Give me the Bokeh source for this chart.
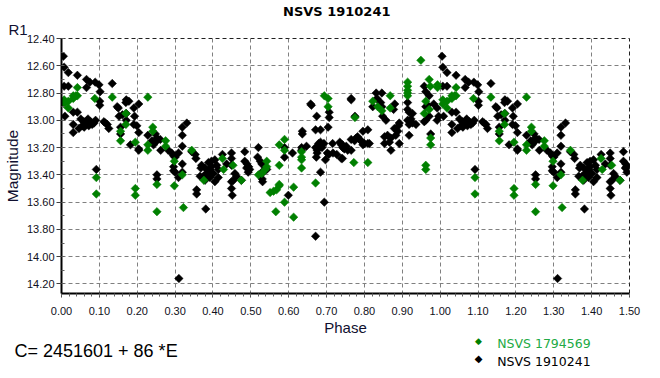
import math
from bokeh.plotting import figure
from bokeh.models import (Range1d, FixedTicker, NumeralTickFormatter, Title,
                          ColumnDataSource)
from bokeh.embed import file_html
from bokeh.resources import INLINE

# ---- data (phase 0..1; points with phase <= 0.5 are repeated at phase + 1) ----
black_phase = [
    0.005, 0.007, 0.018, 0.042, 0.066, 0.075, 0.089, 0.099, 0.102, 0.007, 0.018, 0.066,
    0.134, 0.101, 0.101, 0.171, 0.178, 0.170, 0.147, 0.150, 0.204, 0.191, 0.009, 0.031,
    0.042, 0.031, 0.051, 0.059, 0.068, 0.077, 0.086, 0.055, 0.064, 0.072, 0.046, 0.081,
    0.090, 0.060, 0.070, 0.031, 0.112, 0.121, 0.125, 0.116, 0.152, 0.161, 0.156, 0.156,
    0.171, 0.171, 0.193, 0.191, 0.199, 0.204, 0.182, 0.204, 0.204, 0.228, 0.239, 0.243,
    0.092,
    0.248, 0.252, 0.245, 0.252, 0.261, 0.243, 0.262, 0.282, 0.291, 0.296, 0.300, 0.309,
    0.319, 0.331, 0.319, 0.319, 0.319, 0.319, 0.309, 0.296, 0.296, 0.300, 0.252, 0.252,
    0.344, 0.353, 0.355, 0.357, 0.357, 0.381, 0.310,
    0.370, 0.379, 0.388, 0.396, 0.405, 0.410, 0.392, 0.383, 0.401, 0.414, 0.375, 0.392,
    0.405, 0.414, 0.379, 0.366, 0.368, 0.396,
    0.425, 0.436, 0.449, 0.449, 0.449, 0.458, 0.462, 0.454, 0.449, 0.475, 0.484, 0.484,
    0.489, 0.493, 0.493, 0.449, 0.451,
    0.494, 0.497, 0.490, 0.520, 0.518, 0.525, 0.529, 0.533, 0.529, 0.530, 0.531, 0.542,
    0.589, 0.589, 0.599, 0.610, 0.634, 0.634, 0.636, 0.636, 0.647, 0.658, 0.660, 0.674,
    0.671, 0.684,
    0.671, 0.675, 0.675, 0.679, 0.684, 0.688, 0.693, 0.673, 0.697, 0.706, 0.702, 0.717,
    0.684, 0.694, 0.671, 0.707, 0.707, 0.704, 0.716, 0.735, 0.742, 0.744, 0.742, 0.727,
    0.739, 0.743, 0.747, 0.752, 0.756, 0.739, 0.765, 0.765, 0.765, 0.775,
    0.765, 0.774, 0.778, 0.782, 0.787, 0.791, 0.796, 0.800, 0.809, 0.813, 0.796, 0.809,
    0.831, 0.846, 0.833, 0.843, 0.846, 0.822, 0.848, 0.857,
    0.877, 0.880, 0.879, 0.888, 0.892, 0.883, 0.870, 0.853, 0.861, 0.866, 0.870, 0.853,
    0.892, 0.890,
    0.914, 0.914, 0.918, 0.927, 0.923, 0.914, 0.918, 0.927, 0.936, 0.918,
    0.958, 0.962, 0.971, 0.962, 0.967, 0.958, 0.962, 0.971, 0.975, 0.983, 0.992, 0.992,
    0.996,
]
black_mag = [
    12.53, 12.61, 12.65, 12.67, 12.70, 12.72, 12.72, 12.74, 12.79, 12.75, 12.75, 12.76,
    12.73, 12.86, 12.89, 12.85, 12.86, 12.87, 12.90, 12.91, 12.88, 12.91, 12.97, 12.94,
    12.94, 13.03, 12.99, 13.01, 13.00, 13.01, 13.02, 13.04, 13.03, 13.04, 13.06, 13.03,
    13.00, 13.05, 12.99, 13.09, 13.01, 13.03, 13.06, 13.02, 12.97, 12.96, 13.05, 13.10,
    12.95, 13.00, 12.97, 13.03, 13.04, 13.09, 13.18, 13.21, 13.22, 13.11, 13.15, 13.18,
    13.36,
    13.10, 13.13, 13.16, 13.15, 13.14, 13.17, 13.22, 13.22, 13.24, 13.26, 13.27, 13.24,
    13.05, 13.02, 13.11, 13.19, 13.32, 13.38, 13.42, 13.34, 13.37, 13.38, 13.40, 13.43,
    13.23, 13.25, 13.28, 13.51, 13.54, 13.65, 14.16,
    13.33, 13.35, 13.31, 13.30, 13.29, 13.33, 13.36, 13.39, 13.39, 13.36, 13.41, 13.42,
    13.45, 13.42, 13.44, 13.41, 13.35, 13.34,
    13.25, 13.32, 13.24, 13.28, 13.33, 13.39, 13.41, 13.44, 13.45, 13.44, 13.23, 13.30,
    13.35, 13.38, 13.34, 13.50, 13.55,
    13.34, 13.36, 13.32, 13.20, 13.27, 13.30, 13.32, 13.37, 13.39, 13.43, 13.45, 13.36,
    13.20, 13.27, 13.55, 13.24, 13.22, 13.20, 13.08, 13.10, 13.19, 12.88, 12.89, 12.97,
    13.07, 13.07,
    13.20, 13.22, 13.24, 13.17, 13.16, 13.20, 13.17, 13.27, 13.29, 13.25, 13.24, 13.24,
    13.38, 13.60, 13.85, 12.94, 12.98, 13.05, 13.17, 13.16, 13.18, 13.20, 13.28, 13.25,
    13.18, 13.20, 13.21, 13.19, 13.22, 13.28, 13.22, 12.85, 12.84, 12.97,
    13.14, 13.15, 13.13, 13.12, 13.14, 13.15, 13.18, 13.17, 13.17, 13.17, 13.08, 13.07,
    12.80, 12.80, 12.84, 12.87, 12.90, 12.90, 12.97, 13.00,
    12.92, 12.88, 13.06, 13.08, 13.02, 13.11, 13.13, 13.12, 13.11, 13.16, 13.22, 13.17,
    13.17, 13.04,
    12.87, 12.92, 12.94, 12.95, 12.99, 13.00, 13.03, 13.02, 13.03, 13.11,
    12.75, 12.79, 12.82, 12.90, 12.89, 13.01, 13.00, 12.97, 13.10, 12.88, 12.91, 13.00,
    12.97,
]
green_phase = [
    0.007, 0.007, 0.018, 0.018, 0.031, 0.031, 0.038, 0.042, 0.042, 0.088, 0.134, 0.228,
    0.170, 0.170, 0.156, 0.156, 0.195, 0.241, 0.241, 0.228, 0.228, 0.092, 0.092, 0.195,
    0.195, 0.252, 0.252,
    0.275, 0.275, 0.298, 0.298, 0.319, 0.322, 0.344, 0.376, 0.425, 0.428, 0.475, 0.453,
    0.542, 0.542, 0.538, 0.520, 0.529, 0.551, 0.560, 0.568, 0.575, 0.575, 0.566, 0.575,
    0.575, 0.589, 0.589, 0.589, 0.613, 0.613, 0.634, 0.634, 0.634, 0.634, 0.671, 0.694,
    0.704, 0.704,
    0.775, 0.772, 0.809, 0.822, 0.835, 0.846, 0.868, 0.868, 0.914, 0.914, 0.914, 0.914,
    0.949, 0.914, 0.971, 0.974, 0.958, 0.971, 0.962, 0.993, 0.993, 0.975, 0.975, 0.962,
    0.962,
]
green_mag = [
    12.85, 12.88, 12.86, 12.91, 12.82, 12.84, 12.82, 12.82, 12.76, 12.84, 12.83, 12.83,
    12.95, 13.03, 13.08, 13.15, 13.16, 13.05, 13.08, 13.18, 13.22, 13.42, 13.54, 13.50,
    13.55, 13.47, 13.67,
    13.15, 13.19, 13.30, 13.48, 13.40, 13.64, 13.22, 13.44, 13.28, 13.36, 13.44, 13.33,
    13.30, 13.34, 13.36, 13.40, 13.39, 13.53, 13.52, 13.51, 13.48, 13.47, 13.67, 13.33,
    13.18, 13.14, 13.22, 13.60, 13.49, 13.71, 13.23, 13.27, 13.29, 13.35, 13.46, 12.82,
    12.84, 12.90,
    12.98, 13.31, 13.31, 12.86, 12.90, 12.93, 12.82, 12.91, 12.72, 12.75, 12.80, 12.82,
    12.56, 12.78, 12.70, 12.75, 12.95, 12.92, 12.86, 12.74, 12.76, 13.13, 13.18, 13.33,
    13.36,
]
x_ticks = [0.0, 0.1, 0.2, 0.3, 0.4, 0.5, 0.6, 0.7, 0.8, 0.9, 1.0, 1.1, 1.2, 1.3, 1.4, 1.5]
y_ticks = [12.4, 12.6, 12.8, 13.0, 13.2, 13.4, 13.6, 13.8, 14.0, 14.2]

title_text = "NSVS 1910241"
series_names = ["NSVS 1794569", "NSVS 1910241"]
series_colors = ["#008000", "#000000"]
label_colors = ["#22aa44", "#000000"]
epoch_text = "C= 2451601 + 86 *E"
legend_symbol = "\u25c6"


def fold(ph, mg):
    xs = list(ph) + [a + 1.0 for a in ph if a <= 0.5]
    ys = list(mg) + [m for a, m in zip(ph, mg) if a <= 0.5]
    return xs, ys


bx, by = fold(black_phase, black_mag)
gx, gy = fold(green_phase, green_mag)

W, H = 660, 378
FL, FR, FT, FB = 59, 629, 38, 293   # frame edges in page pixels

p = figure(width=W, height=H, output_backend="svg", toolbar_location=None,
           title=title_text,
           x_range=Range1d(0, 1.5), y_range=Range1d(14.27, 12.40),
           min_border_left=FL, min_border_right=W - FR, min_border_top=FT,
           min_border_bottom=H - FB, background_fill_color="white",
           border_fill_color="white")

p.title.align = "left"
p.title.offset = 280.5 - FL
p.title.standoff = 0
p.title.text_font = "DejaVu Sans"
p.title.text_font_style = "bold"
p.title.text_font_size = "13px"
p.title.text_color = "black"

p.add_layout(Title(text="R1", align="left", offset=6 - FL, standoff=1,
                   text_font="Liberation Sans", text_font_style="normal",
                   text_font_size="15px", text_color="#101030"), "above")

for g in (p.xgrid, p.ygrid):
    g.grid_line_color = "#808080"
    g.grid_line_dash = "4 3"
    g.grid_line_width = 1
p.xgrid.ticker = FixedTicker(ticks=x_ticks)
p.ygrid.ticker = FixedTicker(ticks=y_ticks)

p.outline_line_color = "#202020"
p.outline_line_dash = "4 3"
p.outline_line_width = 1

xa = p.xaxis[0]
ya = p.yaxis[0]
xa.ticker = FixedTicker(ticks=x_ticks, minor_ticks=[i * 0.02 for i in range(76)])
ya.ticker = FixedTicker(ticks=y_ticks, minor_ticks=[12.4 + i * 0.1 for i in range(19)])
for a in (xa, ya):
    a.formatter = NumeralTickFormatter(format="0.00")
    a.axis_line_width = 2
    a.axis_line_color = "black"
    a.major_tick_line_color = "#404040"
    a.minor_tick_line_color = "#606060"
    a.major_label_text_font = "Liberation Sans"
    a.major_label_text_font_size = "11px"
    a.major_label_text_color = "#101020"
    a.axis_label_text_font = "Liberation Sans"
    a.axis_label_text_font_style = "normal"
    a.axis_label_text_color = "#101030"
xa.major_tick_out = 4
xa.major_tick_in = 0
xa.minor_tick_out = 3
xa.minor_tick_in = 0
xa.major_label_standoff = 9
xa.axis_label = "Phase"
xa.axis_label_text_font_size = "15px"
xa.axis_label_standoff = 1
ya.major_tick_out = 5
ya.major_tick_in = 0
ya.minor_tick_out = 0
ya.minor_tick_in = 3
ya.major_label_standoff = 2
ya.axis_label = "Magnitude"
ya.axis_label_text_font_size = "15.5px"
ya.axis_label_standoff = 3

src_b = ColumnDataSource(dict(x=bx, y=by))
src_g = ColumnDataSource(dict(x=gx, y=gy))
p.scatter("x", "y", source=src_b, marker="square", angle=math.pi / 4, size=6,
          fill_color=series_colors[1], line_color=series_colors[1], line_width=0.5)
p.scatter("x", "y", source=src_g, marker="square", angle=math.pi / 4, size=6,
          fill_color=series_colors[0], line_color=series_colors[0], line_width=0.5)

# ---- bottom strip (legend + epoch): titles stacked below the x axis ----
# (text, font, size px, colour, left x in page px, standoff used to stack them)
entries = [
    (legend_symbol, "DejaVu Sans", 9.0, series_colors[0], 472.5, -10),
    (series_names[0], "DejaVu Sans", 12.5, label_colors[0], 494.7, -14),
    (epoch_text, "Liberation Sans", 18.0, "black", 12.0, -9),
    (legend_symbol, "DejaVu Sans", 10.0, series_colors[1], 472.2, -11),
    (series_names[1], "DejaVu Sans", 12.5, label_colors[1], 494.7, -14),
]
for text, font, fs, col, left, s in entries:
    t = Title(text=text, align="left", offset=left - FL, text_font=font,
              text_font_style="normal", text_font_size=f"{fs}px", text_color=col)
    try:
        t.standoff = s
    except Exception:
        t.standoff = 0
    p.add_layout(t, "below")

open("out.html", "w").write(file_html(p, INLINE))
